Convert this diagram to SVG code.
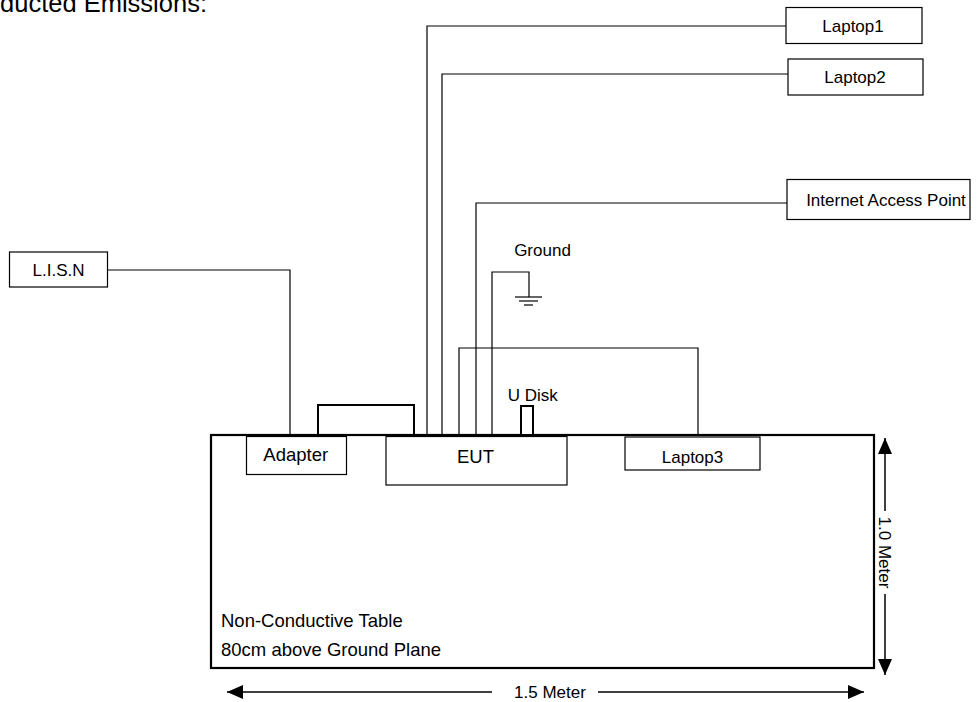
<svg xmlns="http://www.w3.org/2000/svg" width="977" height="702" viewBox="0 0 977 702">
<style>
text{font-family:"Liberation Sans",Arial,sans-serif;fill:#000}
.box{fill:#fff;stroke:#000;stroke-width:1.2}
.w{fill:none;stroke:#000;stroke-width:1.2}
.s17{font-size:17px}
.s18{font-size:18.5px}
.c{text-anchor:middle}
</style>
<defs>
<marker id="ah2" viewBox="0 0 16 14" refX="16" refY="7" markerWidth="16" markerHeight="14" markerUnits="userSpaceOnUse" orient="auto-start-reverse">
<path d="M0,0 L16,7 L0,14 z" fill="#000"/>
</marker>
</defs>
<rect width="977" height="702" fill="#fff"/>
<text x="207" y="12" font-size="25.5" text-anchor="end">Conducted Emissions:</text>

<g id="connectors">
<polyline class="w" points="427,435 427,26 786,26"/>
<polyline class="w" points="442,435 442,74 788,74"/>
<polyline class="w" points="476,435 476,203 787,203"/>
<polyline class="w" points="492,435 492,272 529,272 529,297"/>
<line class="w" x1="515" y1="297" x2="542" y2="297"/>
<line class="w" x1="519" y1="301" x2="538" y2="301"/>
<line class="w" x1="524" y1="305" x2="533" y2="305"/>
<polyline class="w" points="459,435 459,348 698,348 698,435"/>
<polyline class="w" points="108,270 290,270 290,435"/>
<polyline class="w" points="318,435 318,405 414,405 414,435" style="stroke-width:2"/>
</g>

<g id="table">
<rect x="211" y="435" width="663" height="233" fill="none" stroke="#000" stroke-width="2.2"/>
<text x="221" y="627" class="s18">Non-Conductive Table</text>
<text x="221" y="656" class="s18">80cm above Ground Plane</text>
</g>

<g id="laptop1">
<rect class="box" x="786" y="7.5" width="136" height="36"/>
<text x="853" y="31.5" class="s17 c">Laptop1</text>
</g>
<g id="laptop2">
<rect class="box" x="788" y="59" width="135" height="36"/>
<text x="855" y="83" class="s17 c">Laptop2</text>
</g>
<g id="iap">
<rect class="box" x="787" y="179.5" width="183" height="40"/>
<text x="886" y="205.5" class="s17 c">Internet Access Point</text>
</g>
<g id="ground">
<text x="542.5" y="256" class="s17 c">Ground</text>
</g>
<g id="lisn">
<rect class="box" x="9.5" y="252" width="98" height="35"/>
<text x="58.5" y="276" class="s17 c">L.I.S.N</text>
</g>
<g id="udisk">
<rect x="521" y="406" width="12" height="29" fill="#fff" stroke="#000" stroke-width="2"/>
<text x="532.7" y="401" class="s17 c">U Disk</text>
</g>
<g id="adapter">
<rect class="box" x="246.5" y="436.5" width="100" height="38"/>
<text x="295.7" y="461" class="s18 c">Adapter</text>
</g>
<g id="eut">
<rect class="box" x="386" y="436.5" width="181" height="48.5"/>
<text x="475.5" y="463" class="s18 c">EUT</text>
</g>
<g id="laptop3">
<rect class="box" x="625" y="437" width="135" height="33"/>
<text x="692.5" y="463" class="s17 c">Laptop3</text>
</g>

<g id="dimensions">
<line x1="885" y1="438" x2="885" y2="511" stroke="#000" stroke-width="1.5" marker-start="url(#ah2)"/>
<line x1="885" y1="594" x2="885" y2="675" stroke="#000" stroke-width="1.5" marker-end="url(#ah2)"/>
<text x="0" y="0" class="s17 c" transform="translate(879,552.5) rotate(90)">1.0 Meter</text>
<line x1="227" y1="692" x2="492" y2="692" stroke="#000" stroke-width="1.5" marker-start="url(#ah2)"/>
<line x1="598" y1="692" x2="864" y2="692" stroke="#000" stroke-width="1.5" marker-end="url(#ah2)"/>
<text x="550" y="698" class="s17 c">1.5 Meter</text>
</g>
</svg>
